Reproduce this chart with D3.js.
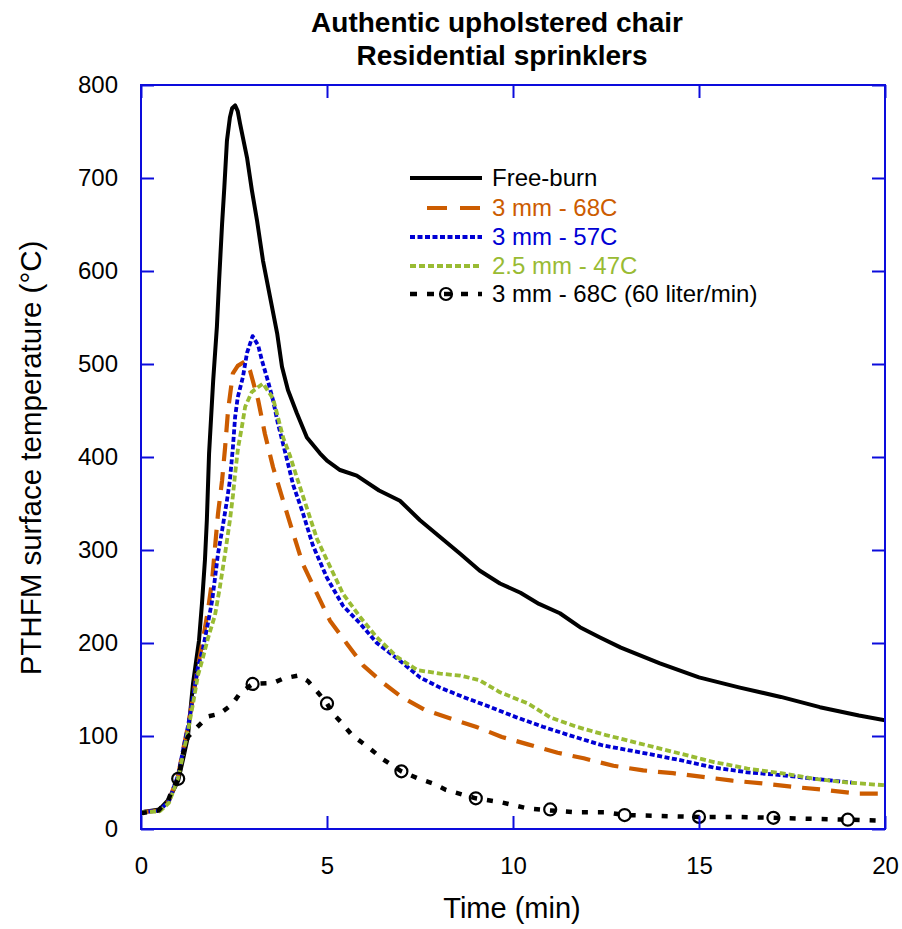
<!DOCTYPE html>
<html>
<head>
<meta charset="utf-8">
<script src="https://cdn.jsdelivr.net/npm/d3@7"></script>
<style>
  body { margin: 0; background: #fff; }
  svg { font-family: "Liberation Sans", Arial, sans-serif; }
</style>
</head>
<body>
<div id="chart"></div>
<script>
// Chart size
var w = 902;
var h = 929;

// Series: time (min) and temperature (°C)
var freeT = [0, 0.5, 0.75, 1.0, 1.13, 1.26, 1.4, 1.56, 1.64, 1.72, 1.77, 1.83, 1.94, 2.04, 2.1, 2.18, 2.24, 2.31, 2.39, 2.45, 2.53, 2.6, 2.66, 2.85, 2.98, 3.12, 3.28, 3.47, 3.66, 3.79, 3.95, 4.19, 4.46, 4.81, 5.0, 5.35, 5.8, 6.4, 6.96, 7.5, 8.04, 8.58, 9.1, 9.65, 10.2, 10.7, 11.26, 11.8, 12.34, 12.9, 13.95, 15.0, 16.1, 17.2, 18.25, 19.3, 20];
var freeV = [18, 21, 32, 52, 75, 99, 157, 203, 243, 290, 332, 404, 482, 540, 590, 651, 690, 740, 765, 775, 778, 772, 759, 722, 687, 654, 611, 572, 533, 497, 472, 447, 421, 404, 396, 386, 380, 364, 353, 332, 314, 296, 278, 264, 254, 242, 232, 217, 206, 195, 178, 163, 152, 142, 131, 122, 117];

var s68T = [0, 0.5, 0.75, 1.0, 1.13, 1.26, 1.4, 1.53, 1.67, 1.8, 1.91, 1.99, 2.07, 2.18, 2.26, 2.34, 2.47, 2.6, 2.8, 2.93, 3.15, 3.33, 3.55, 3.82, 4.09, 4.35, 4.73, 5.08, 5.54, 5.97, 6.48, 7.0, 7.63, 8.3, 9.0, 9.7, 10.4, 11.2, 11.9, 12.7, 13.5, 14.3, 15.1, 15.9, 16.7, 17.6, 18.4, 19.25, 20];
var s68V = [18, 20, 30, 58, 85, 110, 142, 174, 205, 235, 267, 303, 339, 375, 410, 450, 490, 498, 503, 493, 461, 425, 389, 353, 318, 285, 253, 224, 199, 176, 158, 142, 128, 119, 110, 99, 91, 82, 76, 68, 63, 60, 56, 52, 49, 45, 42, 38, 38];

var s57T = [0, 0.5, 0.75, 1.0, 1.13, 1.26, 1.4, 1.53, 1.67, 1.77, 1.91, 1.99, 2.07, 2.18, 2.31, 2.39, 2.47, 2.53, 2.6, 2.74, 2.85, 3.0, 3.15, 3.25, 3.41, 3.55, 3.68, 3.82, 3.95, 4.09, 4.35, 4.62, 5.0, 5.43, 5.89, 6.34, 6.96, 7.5, 8.04, 8.66, 9.4, 10.1, 10.8, 11.5, 12.4, 13.6, 14.5, 15.4, 16.3, 17.2, 18.1, 19.1];
var s57V = [18, 20, 30, 58, 85, 110, 142, 174, 195, 215, 245, 270, 296, 321, 353, 375, 410, 443, 464, 486, 512, 530, 520, 504, 482, 461, 436, 414, 393, 370, 340, 305, 270, 240, 221, 200, 181, 163, 152, 142, 131, 120, 110, 101, 90, 81, 74, 66, 61, 58, 54, 50];

var s47T = [0, 0.5, 0.75, 1.0, 1.13, 1.26, 1.4, 1.53, 1.67, 1.8, 1.99, 2.12, 2.26, 2.39, 2.47, 2.53, 2.61, 2.71, 2.8, 2.98, 3.28, 3.55, 3.68, 3.82, 4.0, 4.19, 4.46, 4.73, 5.0, 5.43, 5.89, 6.34, 6.88, 7.42, 8.04, 8.58, 9.1, 9.65, 10.4, 11.0, 11.7, 12.5, 13.6, 14.5, 15.4, 16.3, 17.2, 18.1, 19.0, 20];
var s47V = [18, 19, 28, 55, 80, 105, 135, 165, 185, 205, 230, 260, 296, 332, 358, 382, 410, 432, 454, 470, 479, 463, 443, 421, 402, 378, 345, 312, 289, 253, 228, 206, 185, 171, 167, 165, 160, 147, 135, 120, 110, 101, 90, 81, 72, 65, 60, 54, 50, 47];

var s60T = [0, 0.47, 0.73, 0.87, 1.0, 1.13, 1.26, 1.5, 1.8, 2.12, 2.45, 2.66, 3.0, 3.55, 3.84, 4.22, 4.49, 4.73, 5.0, 5.16, 5.4, 5.67, 5.94, 6.2, 6.5, 7.0, 7.47, 7.85, 8.2, 9.0, 9.65, 10.4, 11.0, 11.7, 12.5, 13, 14, 15, 16, 17, 18, 19, 20];
var s60V = [17, 20, 31, 45, 54, 81, 99, 109, 121, 124, 134, 146, 156, 157, 162, 165, 159, 148, 135, 124, 114, 101, 93, 85, 75, 62, 54, 49, 42, 33, 29, 22, 20, 18, 18, 15, 14, 13, 13, 12, 11, 10, 9];

// Circle markers on the 60 liter/min curve
var markT = [1, 3, 5, 7, 9, 11, 13, 15, 17, 19];
var markV = [54, 156, 135, 62, 33, 21, 15, 13, 12, 10];

// Tick values
var xTicks = [0, 5, 10, 15, 20];
var yTicks = [0, 100, 200, 300, 400, 500, 600, 700, 800];

// Legend labels
var legendNames = ["Free-burn", "3 mm - 68C", "3 mm - 57C", "2.5 mm - 47C", "3 mm - 68C (60 liter/min)"];

// Plot area (window.top is reserved, so use other names)
var pLeft = 141, pRight = 885, pTop = 85, pBottom = 829;

var x = d3.scaleLinear().domain([0, 20]).range([pLeft, pRight]);
var y = d3.scaleLinear().domain([0, 800]).range([pBottom, pTop]);

var svg = d3.select("#chart")
    .append("svg")
    .attr("width", w)
    .attr("height", h);

// Clip lines to the frame
svg.append("clipPath").attr("id", "clip")
    .append("rect")
    .attr("x", pLeft).attr("y", pTop)
    .attr("width", pRight - pLeft).attr("height", pBottom - pTop);

// Styles for each series
var series = [
    { t: freeT, v: freeV, color: "#000000", width: 4, dash: null },
    { t: s68T, v: s68V, color: "#cc5c00", width: 4.2, dash: "18,11" },
    { t: s57T, v: s57V, color: "#0000d4", width: 3.8, dash: "5,2.5" },
    { t: s47T, v: s47V, color: "#99bb33", width: 3.8, dash: "6,3" },
    { t: s60T, v: s60V, color: "#000000", width: 4.5, dash: "6,10" }
];

var line = d3.line()
    .x(function(d) { return x(d[0]); })
    .y(function(d) { return y(d[1]); });

var plot = svg.append("g").attr("clip-path", "url(#clip)");

series.forEach(function(s) {
    var pts = s.t.map(function(t, i) { return [t, s.v[i]]; });
    plot.append("path")
        .attr("d", line(pts))
        .attr("fill", "none")
        .attr("stroke", s.color)
        .attr("stroke-width", s.width)
        .attr("stroke-dasharray", s.dash)
        .attr("stroke-linejoin", "round");
});

// Hollow circle markers
plot.selectAll("circle.mark")
    .data(markT)
    .enter()
    .append("circle")
    .attr("class", "mark")
    .attr("cx", function(d) { return x(d); })
    .attr("cy", function(d, i) { return y(markV[i]); })
    .attr("r", 6)
    .attr("fill", "none")
    .attr("stroke", "#000")
    .attr("stroke-width", 2.2);

// Axes with inside ticks, mirrored on top and right
var frameColor = "#0c0cdc";
var tickLen = 13;

function styleAxis(g) {
    g.select(".domain").remove();
    g.selectAll(".tick line").attr("stroke", frameColor).attr("stroke-width", 2);
}

svg.append("g")
    .attr("transform", "translate(0," + pBottom + ")")
    .call(d3.axisBottom(x).tickValues(xTicks).tickSize(-tickLen).tickPadding(28).tickFormat(d3.format("d")))
    .call(styleAxis)
    .selectAll("text").attr("font-size", 24).attr("fill", "#000")
    .attr("font-family", "Liberation Sans, Arial, sans-serif");

svg.append("g")
    .attr("transform", "translate(0," + pTop + ")")
    .call(d3.axisTop(x).tickValues(xTicks).tickSize(-tickLen).tickFormat(""))
    .call(styleAxis);

svg.append("g")
    .attr("transform", "translate(" + pLeft + ",0)")
    .call(d3.axisLeft(y).tickValues(yTicks).tickSize(-tickLen).tickPadding(23).tickFormat(d3.format("d")))
    .call(styleAxis)
    .selectAll("text").attr("font-size", 24).attr("fill", "#000")
    .attr("font-family", "Liberation Sans, Arial, sans-serif");

svg.append("g")
    .attr("transform", "translate(" + pRight + ",0)")
    .call(d3.axisRight(y).tickValues(yTicks).tickSize(-tickLen).tickFormat(""))
    .call(styleAxis);

// Frame
svg.append("rect")
    .attr("x", pLeft).attr("y", pTop)
    .attr("width", pRight - pLeft).attr("height", pBottom - pTop)
    .attr("fill", "none")
    .attr("stroke", frameColor)
    .attr("stroke-width", 2);

// Title
svg.append("text")
    .attr("x", 497).attr("y", 32)
    .attr("text-anchor", "middle")
    .attr("font-size", 28).attr("font-weight", "bold")
    .text("Authentic upholstered chair");
svg.append("text")
    .attr("x", 502).attr("y", 65)
    .attr("text-anchor", "middle")
    .attr("font-size", 28).attr("font-weight", "bold")
    .text("Residential sprinklers");

// Axis labels
svg.append("text")
    .attr("x", 512).attr("y", 918)
    .attr("text-anchor", "middle")
    .attr("font-size", 29)
    .text("Time (min)");
svg.append("text")
    .attr("transform", "translate(41,458) rotate(-90)")
    .attr("text-anchor", "middle")
    .attr("font-size", 29.5)
    .text("PTHFM surface temperature (\u00B0C)");

// Legend
var legendY = [178, 208, 237, 266, 294];
var legendX = [[410, 482], [427, 482], [410, 482], [410, 482], [410, 482]];
var legend = svg.append("g");

series.forEach(function(s, i) {
    legend.append("line")
        .attr("x1", legendX[i][0]).attr("x2", legendX[i][1])
        .attr("y1", legendY[i]).attr("y2", legendY[i])
        .attr("stroke", s.color)
        .attr("stroke-width", s.width)
        .attr("stroke-dasharray", i == 1 ? "20,13" : (i == 4 ? "7,10" : s.dash));
    legend.append("text")
        .attr("x", 492).attr("y", legendY[i])
        .attr("dy", "0.35em")
        .attr("font-size", 24)
        .attr("fill", s.color == "#000000" ? "#000" : s.color)
        .text(legendNames[i]);
});

legend.append("circle")
    .attr("cx", 446).attr("cy", legendY[4])
    .attr("r", 6)
    .attr("fill", "none")
    .attr("stroke", "#000")
    .attr("stroke-width", 2.2);
</script>
</body>
</html>
